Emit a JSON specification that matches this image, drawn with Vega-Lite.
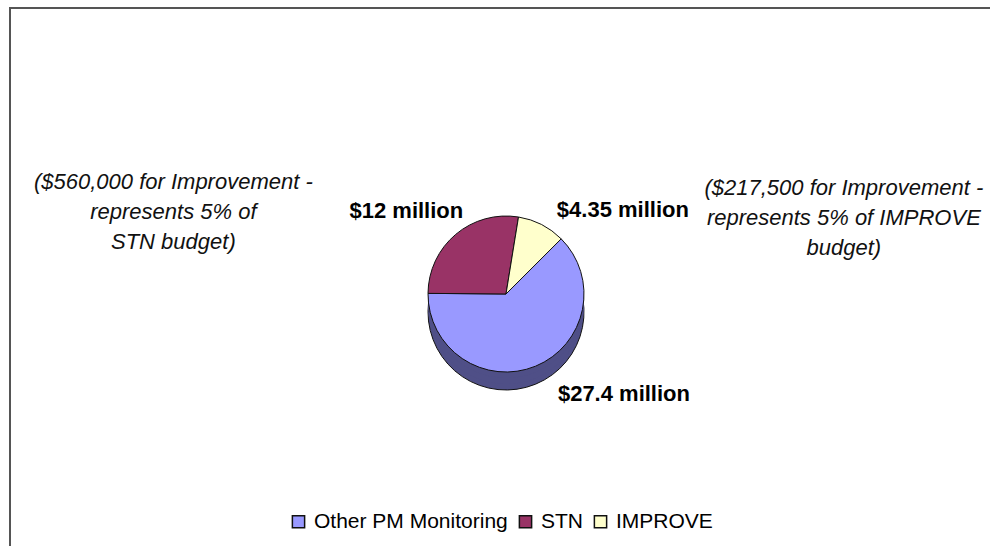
{
  "$schema": "https://vega.github.io/schema/vega-lite/v6.json",
  "width": 992,
  "height": 572,
  "autosize": {"type": "none"},
  "padding": {"left": 10, "top": 8, "right": -12, "bottom": -34},
  "background": "#ffffff",
  "config": {
    "view": {"stroke": null},
    "font": "Liberation Sans"
  },
  "data": {
    "values": [
      {"category": "Other PM Monitoring", "value": 27.4, "ord": 1, "label": "$27.4 million", "note": ""},
      {"category": "STN", "value": 12, "ord": 2, "label": "$12 million", "note": "($560,000 for Improvement -\nrepresents 5% of\nSTN budget)"},
      {"category": "IMPROVE", "value": 4.35, "ord": 3, "label": "$4.35 million", "note": "($217,500 for Improvement -\nrepresents 5% of IMPROVE\nbudget)"}
    ]
  },
  "layer": [
    {
      "data": {"values": [{"frame": "chart area"}]},
      "mark": {"type": "rect", "fill": null, "stroke": "#555555", "strokeWidth": 2},
      "encoding": {}
    },
    {
      "mark": {"type": "arc", "outerRadius": 78, "yOffset": 18, "stroke": "#111111", "strokeWidth": 1},
      "encoding": {
        "theta": {"field": "value", "type": "quantitative", "stack": true, "scale": {"range": [0.785, 7.069]}},
        "order": {"field": "ord", "type": "quantitative"},
        "fill": {"condition": [{"test": "datum.category === 'STN'", "value": "#4D1A33"}, {"test": "datum.category === 'IMPROVE'", "value": "#808066"}], "value": "#4F4F87"}
      }
    },
    {
      "mark": {"type": "arc", "outerRadius": 78, "yOffset": 12},
      "encoding": {
        "theta": {"field": "value", "type": "quantitative", "stack": true},
        "order": {"field": "ord", "type": "quantitative"},
        "fill": {"condition": [{"test": "datum.category === 'STN'", "value": "#4D1A33"}, {"test": "datum.category === 'IMPROVE'", "value": "#808066"}], "value": "#4F4F87"}
      }
    },
    {
      "mark": {"type": "arc", "outerRadius": 78, "yOffset": 6},
      "encoding": {
        "theta": {"field": "value", "type": "quantitative", "stack": true},
        "order": {"field": "ord", "type": "quantitative"},
        "fill": {"condition": [{"test": "datum.category === 'STN'", "value": "#4D1A33"}, {"test": "datum.category === 'IMPROVE'", "value": "#808066"}], "value": "#4F4F87"}
      }
    },
    {
      "mark": {"type": "arc", "outerRadius": 78, "stroke": "#111111", "strokeWidth": 1},
      "encoding": {
        "theta": {"field": "value", "type": "quantitative", "stack": true},
        "order": {"field": "ord", "type": "quantitative"},
        "color": {"field": "category", "type": "nominal",
          "scale": {"domain": ["Other PM Monitoring", "STN", "IMPROVE"], "range": ["#9999FF", "#993366", "#FFFFCC"]},
          "legend": {
            "title": null, "orient": "none", "direction": "horizontal",
            "legendX": 278, "legendY": 503,
            "symbolType": "square", "symbolSize": 150,
            "labelFontSize": 21, "labelColor": "#000000", "labelFont": "Liberation Sans",
            "labelOffset": 5, "columnPadding": 7, "padding": 0, "labelLimit": 400,
            "encode": {"symbols": {"update": {"stroke": {"value": "#000000"}, "strokeWidth": {"value": 1}, "opacity": {"value": 1}}}}
          }
        }
      }
    },
    {
      "mark": {"type": "text", "radius": 108, "dx": 77, "fontSize": 22, "fontWeight": "bold", "color": "#000000", "align": "center", "baseline": "middle"},
      "encoding": {
        "theta": {"field": "value", "type": "quantitative", "stack": true},
        "order": {"field": "ord", "type": "quantitative"},
        "text": {"condition": {"test": "datum.category === 'Other PM Monitoring'", "field": "label"}, "value": ""}
      }
    },
    {
      "mark": {"type": "text", "radius": 108, "dx": -30, "fontSize": 22, "fontWeight": "bold", "color": "#000000", "align": "center", "baseline": "middle"},
      "encoding": {
        "theta": {"field": "value", "type": "quantitative", "stack": true},
        "order": {"field": "ord", "type": "quantitative"},
        "text": {"condition": {"test": "datum.category === 'STN'", "field": "label"}, "value": ""}
      }
    },
    {
      "mark": {"type": "text", "radius": 94, "dx": 74, "fontSize": 22, "fontWeight": "bold", "color": "#000000", "align": "center", "baseline": "middle"},
      "encoding": {
        "theta": {"field": "value", "type": "quantitative", "stack": true},
        "order": {"field": "ord", "type": "quantitative"},
        "text": {"condition": {"test": "datum.category === 'IMPROVE'", "field": "label"}, "value": ""}
      }
    },
    {
      "mark": {"type": "text", "radius": 108, "dx": -263, "dy": -29, "fontSize": 22, "fontStyle": "italic", "color": "#111111", "align": "center", "baseline": "middle", "lineBreak": "\n", "lineHeight": 30},
      "encoding": {
        "theta": {"field": "value", "type": "quantitative", "stack": true},
        "order": {"field": "ord", "type": "quantitative"},
        "text": {"condition": {"test": "datum.category === 'STN'", "field": "note"}, "value": ""}
      }
    },
    {
      "mark": {"type": "text", "radius": 94, "dx": 295, "dy": -22, "fontSize": 22, "fontStyle": "italic", "color": "#111111", "align": "center", "baseline": "middle", "lineBreak": "\n", "lineHeight": 30},
      "encoding": {
        "theta": {"field": "value", "type": "quantitative", "stack": true},
        "order": {"field": "ord", "type": "quantitative"},
        "text": {"condition": {"test": "datum.category === 'IMPROVE'", "field": "note"}, "value": ""}
      }
    }
  ]
}
